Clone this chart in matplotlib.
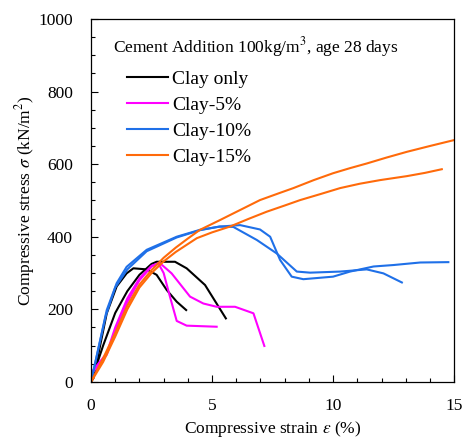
import numpy as np
import matplotlib
matplotlib.use('Agg')
import matplotlib.pyplot as plt
from matplotlib.ticker import MultipleLocator

plt.rcParams['font.family'] = ['Liberation Serif', 'DejaVu Serif']
plt.rcParams['mathtext.fontset'] = 'stix'

# curves (strain %, stress kN/m2)
clay_a_e = [0, 0.1, 0.65, 1.06, 1.47, 1.75, 2.3, 2.71, 3.13, 3.54, 3.93]
clay_a_s = [0, 10, 189, 263, 299, 313, 310, 295, 253, 221, 198]
clay_b_e = [0, 0.5, 1.0, 1.5, 2.0, 2.5, 2.71, 3.47, 3.95, 4.71, 5.57]
clay_b_s = [0, 100, 190, 250, 295, 325, 331, 331, 313, 267, 175]

c5_a_e = [0, 0.65, 1.0, 1.5, 2.0, 2.5, 2.78, 3.0, 3.26, 3.54, 3.95, 5.19]
c5_a_s = [25, 79, 150, 230, 285, 320, 327, 300, 235, 168, 155, 152]
c5_b_e = [0, 0.65, 1.0, 1.5, 2.0, 2.5, 2.85, 3.33, 4.09, 4.64, 5.19, 5.95, 6.71, 7.16]
c5_b_s = [20, 75, 140, 220, 280, 318, 327, 299, 235, 216, 207, 207, 189, 99]

c10_a_e = [0, 0.65, 1.06, 1.47, 2.3, 3.54, 4.5, 5.33, 6.16, 6.98, 7.4, 7.81, 8.29,
           8.77, 10.0, 10.7, 11.67, 12.49, 13.6, 14.76]
c10_a_s = [0, 198, 272, 317, 364, 400, 419, 428, 432, 420, 400, 336, 290,
           283, 290, 304, 318, 322, 329, 330]
c10_b_e = [0, 0.6, 1.0, 1.5, 2.3, 3.54, 4.5, 5.3, 5.88, 6.85, 7.67, 8.5, 9.05,
           10.29, 11.39, 12.08, 12.84]
c10_b_s = [0, 180, 260, 310, 360, 398, 418, 428, 427, 391, 354, 304, 301,
           304, 310, 299, 274]

c15_a_e = [0, 0.5, 1.0, 1.5, 2.0, 2.5, 3.0, 3.5, 4.0, 4.5, 5.33, 6.2, 6.98, 7.81, 8.36,
           9.2, 10.0, 10.7, 11.4, 12.2, 13.05, 14.0, 14.98]
c15_a_s = [0, 65, 135, 210, 268, 308, 342, 370, 395, 419, 446, 475, 501, 521, 534,
           556, 575, 589, 602, 618, 634, 650, 666]
c15_b_e = [0, 0.5, 1.0, 1.5, 2.0, 2.5, 3.0, 3.5, 4.37, 5.0, 5.74, 6.5, 7.26, 8.0, 8.64,
           9.5, 10.29, 11.1, 11.94, 13.05, 13.8, 14.49]
c15_b_s = [0, 55, 125, 200, 260, 300, 332, 358, 396, 412, 428, 449, 469, 486, 501,
           518, 534, 546, 556, 567, 576, 586]

series = [
    ('Clay only', 'black', [(clay_a_e, clay_a_s), (clay_b_e, clay_b_s)]),
    ('Clay-5%', '#FF00FF', [(c5_a_e, c5_a_s), (c5_b_e, c5_b_s)]),
    ('Clay-10%', '#1F70E8', [(c10_a_e, c10_a_s), (c10_b_e, c10_b_s)]),
    ('Clay-15%', '#FF6A0A', [(c15_a_e, c15_a_s), (c15_b_e, c15_b_s)]),
]

fig = plt.figure(figsize=(4.62, 4.41), dpi=100)
ax = fig.add_axes([0.197, 0.134, 0.786, 0.823])

for name, col, curves in series:
    for i, (e, s) in enumerate(curves):
        ax.plot(e, s, color=col, lw=1.5, label=name if i == 0 else None)

ax.set_xlim(0, 15)
ax.set_ylim(0, 1000)
ax.xaxis.set_major_locator(MultipleLocator(5))
ax.xaxis.set_minor_locator(MultipleLocator(1))
ax.yaxis.set_major_locator(MultipleLocator(200))
ax.yaxis.set_minor_locator(MultipleLocator(50))
ax.tick_params(which='both', direction='in', labelsize=12.5, width=0.8)
ax.tick_params(which='major', length=5)
ax.tick_params(which='minor', length=3)
ax.tick_params(axis='x', which='major', pad=11.5)
ax.tick_params(axis='y', which='major', pad=13)
for sp in ax.spines.values():
    sp.set_linewidth(0.9)

ax.set_xlabel(r'Compressive strain $\varepsilon$ (%)', fontsize=12.5, labelpad=4)
ax.set_ylabel(r'Compressive stress $\sigma$ (kN/m$^2$)', fontsize=12.5, labelpad=1)

ax.text(0.06, 0.922, r'Cement Addition 100kg/m$^3$, age 28 days', transform=ax.transAxes,
        fontsize=12.5, va='center', ha='left')
ax.legend(loc='upper left', bbox_to_anchor=(0.062, 0.895), frameon=False, fontsize=14,
          handlelength=2.1, handletextpad=0.2, labelspacing=0.43, borderpad=0.2)

fig.savefig('out.png', dpi=100)
